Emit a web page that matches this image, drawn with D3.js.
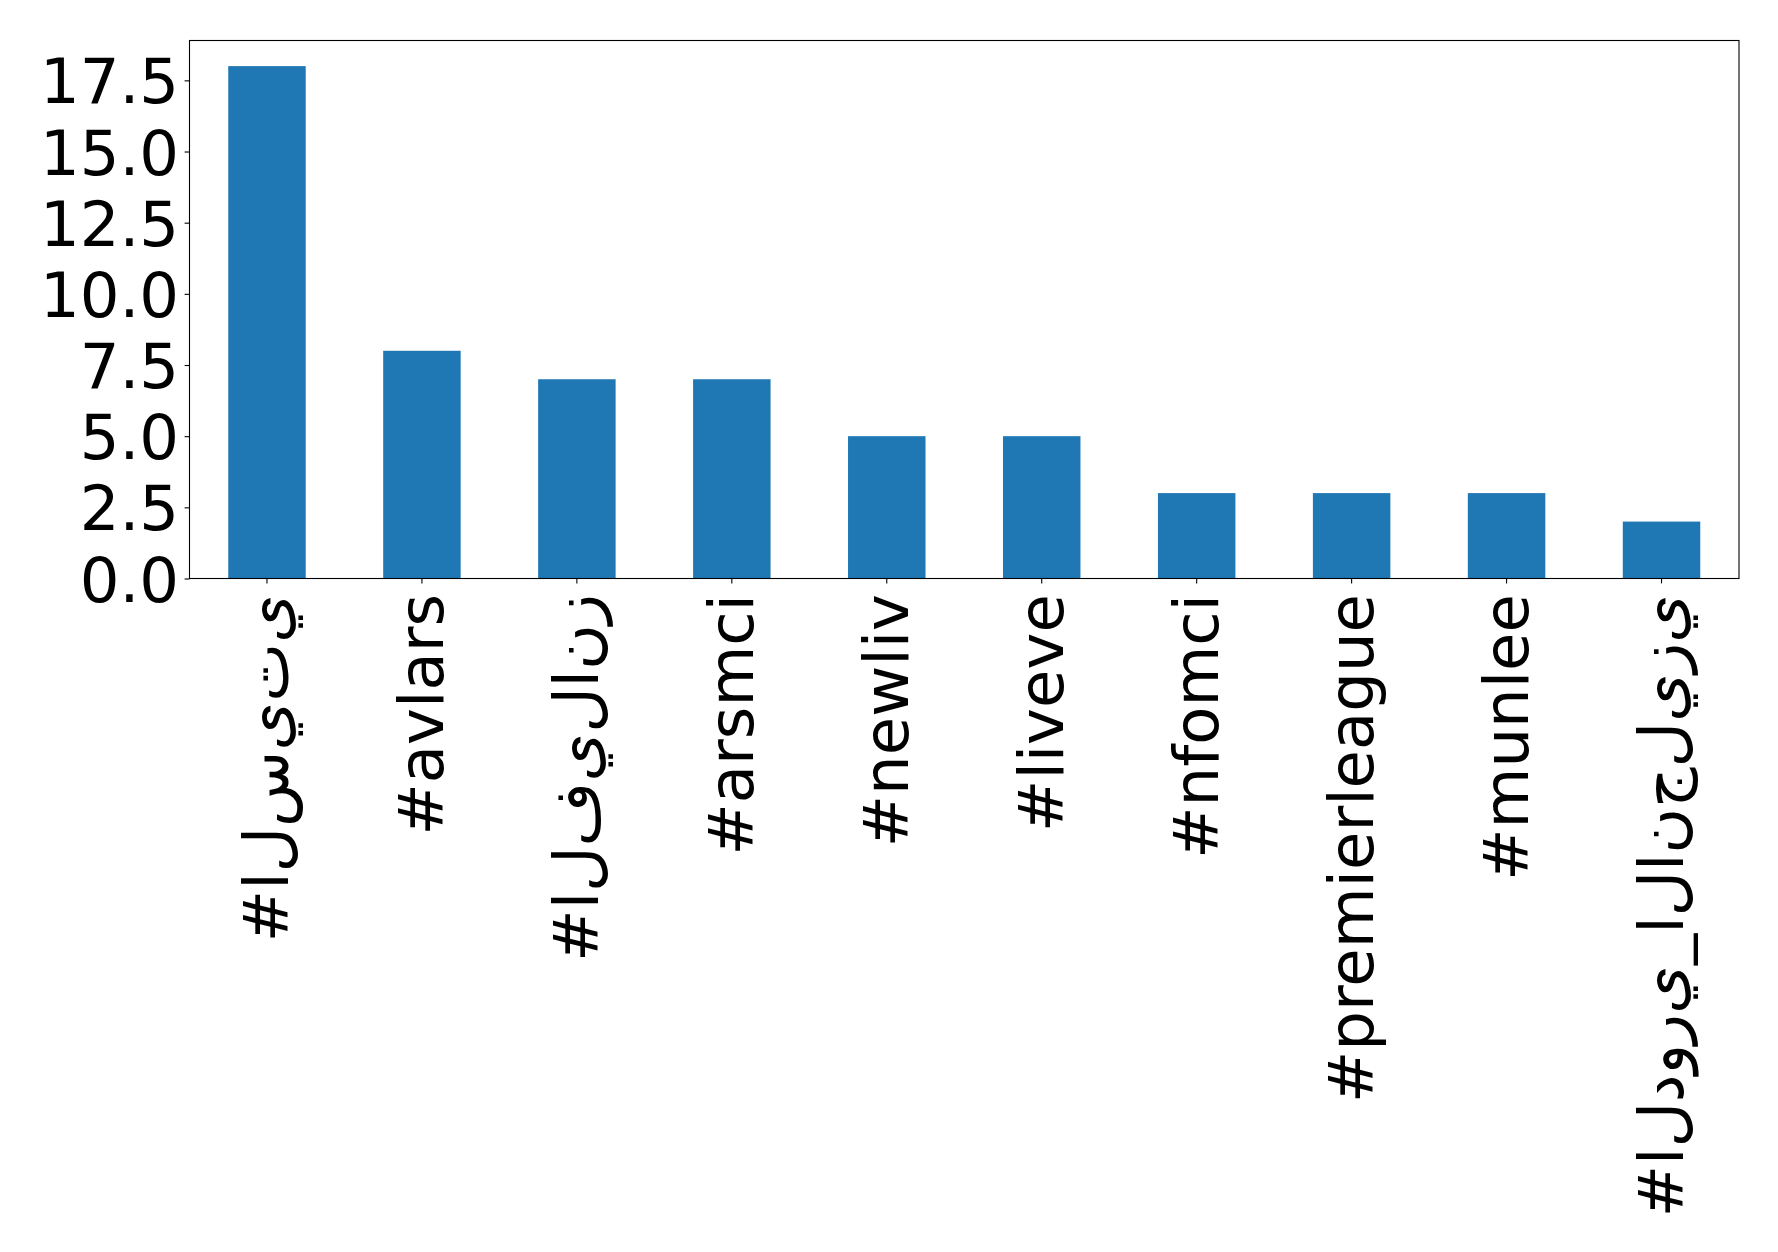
<!DOCTYPE html>
<html>
<head>
<meta charset="utf-8">
<script src="https://cdn.jsdelivr.net/npm/d3@7"></script>
<style>
  html, body { margin: 0; padding: 0; background: #fff; }
  svg { display: block; }
  .tick text { font-family: "DejaVu Sans", sans-serif; }
</style>
</head>
<body>
<svg id="chart" width="1778" height="1252"></svg>
<script>
const categories = ["#السيتي", "#avlars", "#الفيلانز", "#arsmci", "#newliv", "#liveve", "#nfomci", "#premierleague", "#munlee", "#الدوري_الانجليزي"];
const counts = [18, 8, 7, 7, 5, 5, 3, 3, 3, 2];
const yTicks = [0, 2.5, 5, 7.5, 10, 12.5, 15, 17.5];

const W = 1778, H = 1252;
const m = { left: 189.5, right: W - 1739, top: 40.5, bottom: H - 578.5 };
const iw = W - m.left - m.right, ih = H - m.top - m.bottom;
const fontSize = 62.5;

const svg = d3.select("#chart");
const g = svg.append("g").attr("transform", `translate(${m.left},${m.top})`);

const x = d3.scaleBand().domain(categories).range([0, iw]).paddingInner(0.5).paddingOuter(0.25);
const y = d3.scaleLinear().domain([0, d3.max(counts) * 1.05]).range([ih, 0]);

g.selectAll("rect.bar").data(categories).join("rect")
  .attr("class", "bar")
  .attr("x", d => x(d))
  .attr("width", x.bandwidth())
  .attr("y", (d, i) => y(counts[i]))
  .attr("height", (d, i) => y(0) - y(counts[i]))
  .attr("fill", "#1f77b4");

// y axis
const yAxis = g.append("g").call(d3.axisLeft(y).tickValues(yTicks).tickFormat(d3.format(".1f")).tickSize(4.9).tickPadding(5.5));
yAxis.select(".domain").remove();
yAxis.selectAll(".tick line").attr("stroke", "#000").attr("stroke-width", 1.1);
yAxis.selectAll(".tick text").attr("font-size", fontSize).attr("fill", "#000").attr("dy", "0.36em");

// x axis
const isArabic = s => /[\u0600-\u06FF]/.test(s);
const xAxis = g.append("g").attr("transform", `translate(0,${ih})`)
  .call(d3.axisBottom(x).tickSize(4.9).tickPadding(0).tickFormat(d => isArabic(d) ? Array.from(d).join("\u200C") : d));
xAxis.select(".domain").remove();
xAxis.selectAll(".tick line").attr("stroke", "#000").attr("stroke-width", 1.1);
xAxis.selectAll(".tick text")
  .attr("font-size", fontSize).attr("fill", "#000")
  .attr("text-anchor", "end")
  .attr("direction", "ltr")
  .attr("unicode-bidi", "bidi-override")
  .style("direction", "ltr").style("unicode-bidi", "bidi-override")
  .attr("transform", "translate(0,15.5) rotate(-90)")
  .attr("x", 0).attr("y", 0).attr("dy", "0.34em");

// frame
g.append("rect").attr("x", 0).attr("y", 0).attr("width", iw).attr("height", ih)
  .attr("fill", "none").attr("stroke", "#000").attr("stroke-width", 1.1);
</script>
</body>
</html>
